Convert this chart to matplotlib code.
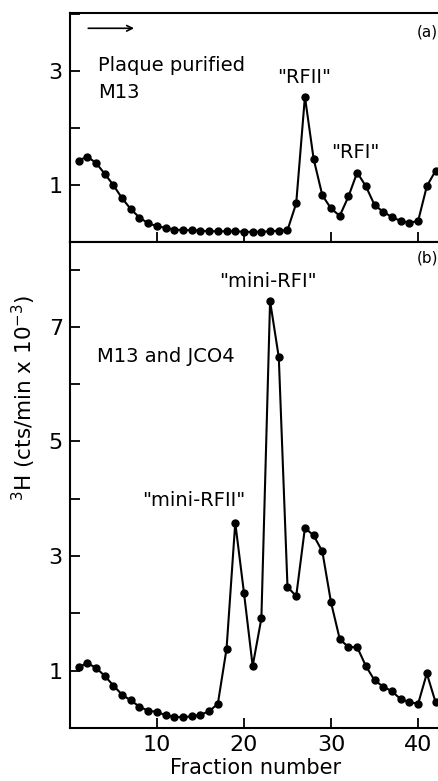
import matplotlib.pyplot as plt
from matplotlib.ticker import MultipleLocator

# fraction numbers (same for both panels)
fractions = list(range(1, 43))

# (a) plaque purified M13
counts_a = [1.43, 1.50, 1.39, 1.20, 1.00, 0.77, 0.58, 0.43, 0.33, 0.28,
            0.25, 0.22, 0.21, 0.21, 0.20, 0.19, 0.19, 0.19, 0.19, 0.18,
            0.18, 0.18, 0.19, 0.20, 0.21, 0.68, 2.55, 1.46, 0.82, 0.59,
            0.46, 0.80, 1.22, 0.98, 0.65, 0.53, 0.44, 0.37, 0.34, 0.37,
            0.98, 1.25]

# (b) M13 and JCO4
counts_b = [1.06, 1.13, 1.05, 0.91, 0.74, 0.58, 0.48, 0.37, 0.30, 0.28,
            0.22, 0.19, 0.19, 0.20, 0.23, 0.29, 0.42, 1.38, 3.58, 2.36,
            1.08, 1.91, 7.45, 6.47, 2.46, 2.30, 3.49, 3.36, 3.08, 2.19,
            1.55, 1.41, 1.41, 1.08, 0.83, 0.72, 0.64, 0.50, 0.45, 0.42,
            0.95, 0.45]

xticks = [10, 20, 30, 40]

plt.rcParams['font.family'] = 'DejaVu Sans'

fig = plt.figure(figsize=(4.39, 7.81), dpi=100)
ax_a = fig.add_axes([0.159, 0.690, 0.845, 0.2935])
ax_b = fig.add_axes([0.159, 0.068, 0.845, 0.622])

for ax in (ax_a, ax_b):
    ax.spines['right'].set_visible(False)
    for s in ax.spines.values():
        s.set_linewidth(1.5)
    ax.set_xlim(0, 42.6)
    ax.set_xticks(xticks)
    ax.yaxis.set_minor_locator(MultipleLocator(1))
    ax.tick_params(which='both', direction='in', length=7, width=1.3,
                   labelsize=16, pad=5)

ax_a.plot(fractions, counts_a, color='black', lw=1.5, marker='o', markersize=5)
ax_a.set_ylim(0, 4.02)
ax_a.set_yticks([1, 3])
ax_a.tick_params(axis='x', labelbottom=False)

ax_a.annotate('', xy=(7.7, 3.75), xytext=(1.8, 3.75),
              arrowprops=dict(arrowstyle='->', color='black', lw=1.2))
ax_a.text(3.2, 3.09, 'Plaque purified', fontsize=14, va='center')
ax_a.text(3.2, 2.62, 'M13', fontsize=14, va='center')
ax_a.text(26.9, 2.88, '"RFII"', fontsize=14, ha='center', va='center')
ax_a.text(32.8, 1.58, '"RFI"', fontsize=14, ha='center', va='center')
ax_a.text(42.3, 3.68, '(a)', fontsize=11, ha='right', va='center')

ax_b.plot(fractions, counts_b, color='black', lw=1.5, marker='o', markersize=5)
ax_b.set_ylim(0, 8.48)
ax_b.set_yticks([1, 3, 5, 7])
ax_b.text(3.1, 6.49, 'M13 and JCO4', fontsize=14, va='center')
ax_b.text(22.7, 7.79, '"mini-RFI"', fontsize=14, ha='center', va='center')
ax_b.text(14.2, 3.97, '"mini-RFII"', fontsize=14, ha='center', va='center')
ax_b.text(42.3, 8.2, '(b)', fontsize=11, ha='right', va='center')
ax_b.set_xlabel('Fraction number', fontsize=15, labelpad=2)

fig.text(0.055, 0.49, '$^3$H (cts/min x 10$^{-3}$)', rotation=90,
         fontsize=15.5, ha='center', va='center')

plt.savefig('out.png', dpi=100)
